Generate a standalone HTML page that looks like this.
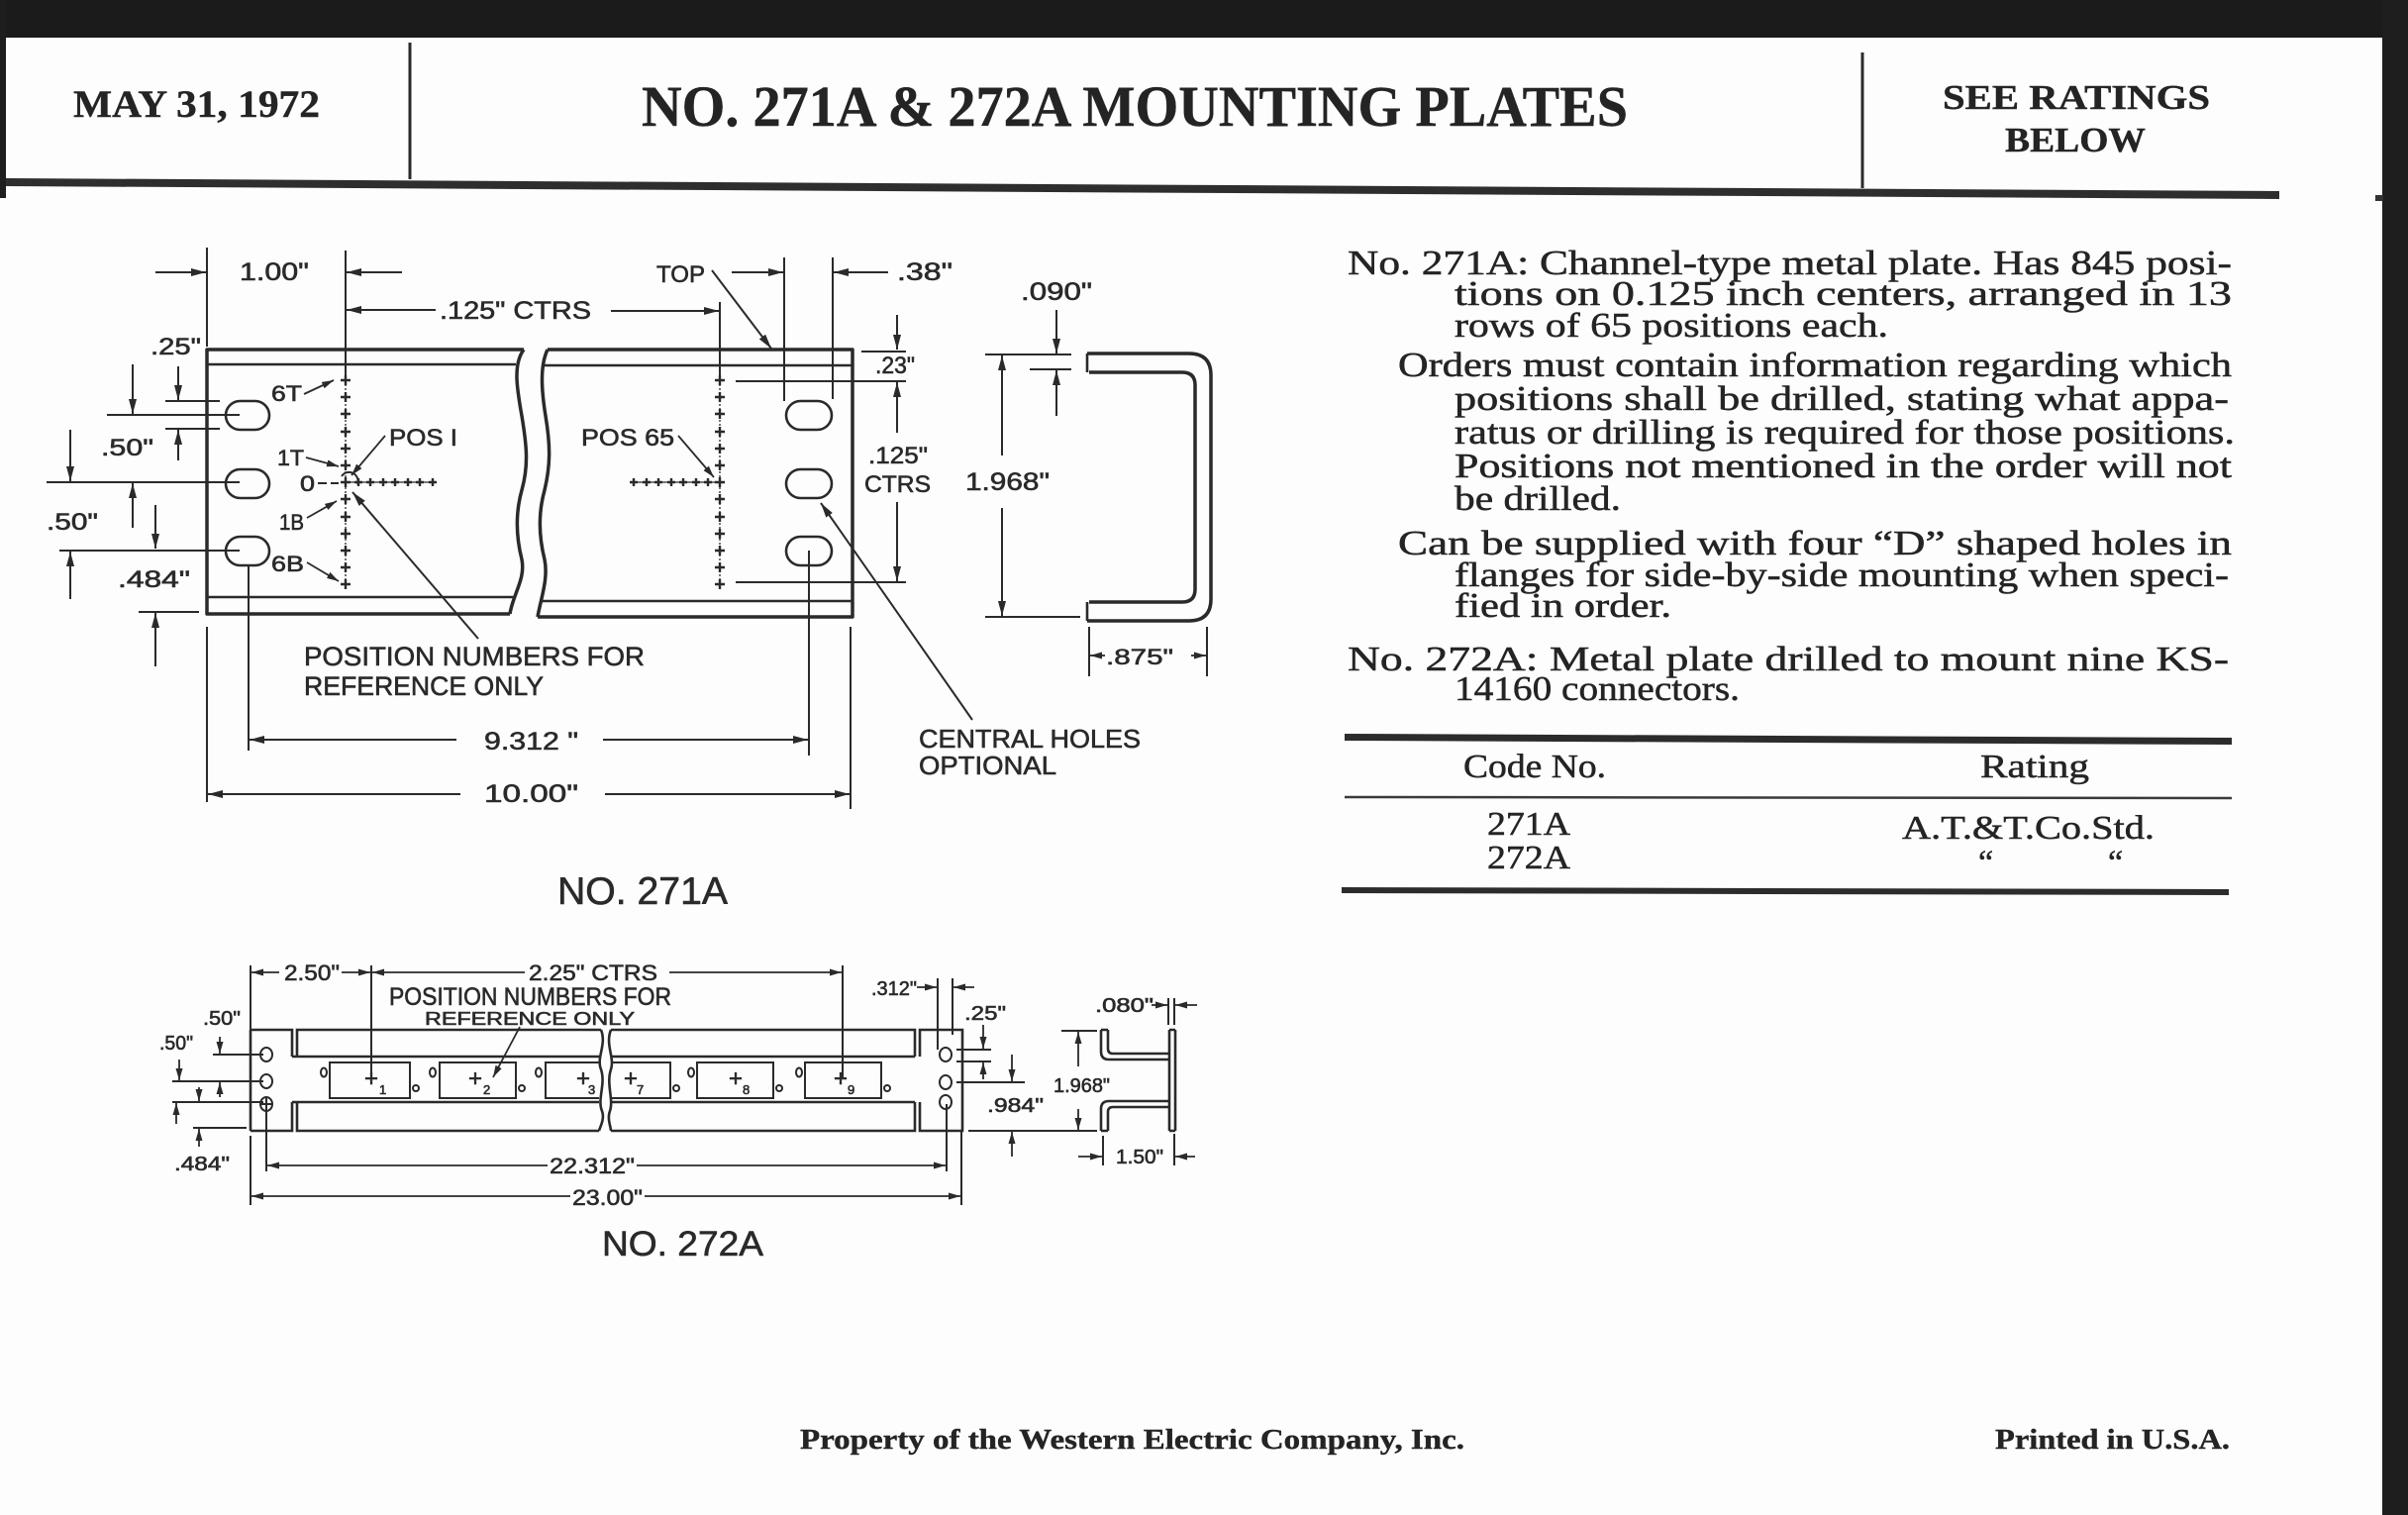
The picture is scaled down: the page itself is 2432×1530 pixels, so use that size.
<!DOCTYPE html>
<html><head><meta charset="utf-8"><title>No. 271A &amp; 272A Mounting Plates</title>
<style>
html,body{margin:0;padding:0;background:#fdfdfd;}
svg{display:block;}
.o{stroke:#2a2a2a;stroke-width:3.5;fill:none;stroke-linejoin:round}
.t{stroke:#2a2a2a;stroke-width:2.6;fill:none}
.d{stroke:#2a2a2a;stroke-width:2;fill:none}
.a{stroke:#2a2a2a;stroke-width:2;fill:none;marker-end:url(#A)}
.s{stroke:#2a2a2a;stroke-width:1.8;fill:none;marker-end:url(#S)}
.l{font-family:"Liberation Sans",sans-serif;fill:#2a2a2a;stroke:#2a2a2a;stroke-width:0.6}
.r{font-family:"Liberation Serif",serif;fill:#242424;stroke:#242424;stroke-width:0.5}
.b{font-family:"Liberation Serif",serif;font-weight:bold;fill:#242424;stroke:#242424;stroke-width:0.4}
</style></head>
<body>
<svg xmlns="http://www.w3.org/2000/svg" width="2432" height="1530" viewBox="0 0 2432 1530">
<defs>
<marker id="A" viewBox="0 0 15 8" refX="15" refY="4" markerWidth="15" markerHeight="8" orient="auto" markerUnits="userSpaceOnUse"><path d="M0,0L15,4L0,8z" fill="#2a2a2a"/></marker>
<marker id="S" viewBox="0 0 12 7" refX="12" refY="3.5" markerWidth="12" markerHeight="7" orient="auto" markerUnits="userSpaceOnUse"><path d="M0,0L12,3.5L0,7z" fill="#2a2a2a"/></marker>
</defs>

<!-- page -->
<rect width="2432" height="1530" fill="#fdfdfd"/>
<rect x="0" y="0" width="2432" height="38" fill="#1b1b1b"/>
<rect x="2406" y="0" width="26" height="1530" fill="#1e1e1e"/>
<rect x="0" y="0" width="6" height="200" fill="#1e1e1e"/>

<!-- header -->
<line x1="414" y1="43" x2="414" y2="181" stroke="#2a2a2a" stroke-width="3"/>
<line x1="1881" y1="53" x2="1881" y2="190" stroke="#2a2a2a" stroke-width="3"/>
<path d="M6,180 L2302,193 L2302,201 L6,188z" fill="#2e2e2e"/>
<rect x="2399" y="197" width="8" height="6" fill="#333"/>
<text class="b" x="74" y="118" font-size="39" textLength="249" lengthAdjust="spacingAndGlyphs">MAY 31, 1972</text>
<text class="b" x="648" y="127" font-size="58" textLength="996" lengthAdjust="spacingAndGlyphs">NO. 271A &amp; 272A MOUNTING PLATES</text>
<text class="b" x="1962" y="110" font-size="35" textLength="270" lengthAdjust="spacingAndGlyphs">SEE RATINGS</text>
<text class="b" x="2025" y="153" font-size="35" textLength="142" lengthAdjust="spacingAndGlyphs">BELOW</text>

<!-- ===== 271A drawing ===== -->
<path class="o" d="M529,353 H209 V620 H515"/>
<path class="t" d="M209,368 H521 M209,603 H518"/>
<path class="o" d="M529,353 C518,368 522,392 527,420 C532,450 534,470 527,495 C520,520 522,545 527,565 C531,585 518,600 515,620"/>
<path class="o" d="M553,353 H861 V623 H543"/>
<path class="t" d="M549,369 H861 M545,607 H861"/>
<path class="o" d="M553,353 C545,370 547,395 551,420 C556,450 556,470 550,495 C543,520 545,545 550,565 C554,585 546,605 543,623"/>

<g class="t">
<rect x="228" y="405" width="44" height="29" rx="14.5"/>
<rect x="228" y="474" width="44" height="29" rx="14.5"/>
<rect x="228" y="542" width="44" height="29" rx="14.5"/>
<rect x="794" y="405" width="46" height="29" rx="14.5"/>
<rect x="794" y="474" width="46" height="29" rx="14.5"/>
<rect x="794" y="542" width="46" height="29" rx="14.5"/>
</g>

<line x1="349" y1="384" x2="349" y2="590" stroke="#2a2a2a" stroke-width="1.3" stroke-dasharray="2 2"/>
<line x1="727" y1="384" x2="727" y2="590" stroke="#2a2a2a" stroke-width="1.3" stroke-dasharray="2 2"/>
<path stroke="#2a2a2a" stroke-width="2.4" fill="none" d="M344,384h10M349,379v10M344,401h10M349,396v10M344,418h10M349,413v10M344,436h10M349,431v10M344,453h10M349,448v10M344,470h10M349,465v10M344,487h10M349,482v10M344,504h10M349,499v10M344,522h10M349,517v10M344,539h10M349,534v10M344,556h10M349,551v10M344,573h10M349,568v10M344,590h10M349,585v10
M722,384h10M727,379v10M722,401h10M727,396v10M722,418h10M727,413v10M722,436h10M727,431v10M722,453h10M727,448v10M722,470h10M727,465v10M722,487h10M727,482v10M722,504h10M727,499v10M722,522h10M727,517v10M722,539h10M727,534v10M722,556h10M727,551v10M722,573h10M727,568v10M722,590h10M727,585v10
M358,487h8M362,483v8M370,487h8M374,483v8M383,487h8M387,483v8M395,487h8M399,483v8M408,487h8M412,483v8M420,487h8M424,483v8M433,487h8M437,483v8
M636,487h8M640,483v8M649,487h8M653,483v8M661,487h8M665,483v8M674,487h8M678,483v8M686,487h8M690,483v8M699,487h8M703,483v8M711,487h8M715,483v8"/>
<line x1="354" y1="487" x2="441" y2="487" stroke="#2a2a2a" stroke-width="1.2"/>
<line x1="636" y1="487" x2="722" y2="487" stroke="#2a2a2a" stroke-width="1.2"/>
<path d="M345,481 A9,9 0 0 1 361,489" class="d"/>

<text class="l" x="274" y="405" font-size="22" textLength="31" lengthAdjust="spacingAndGlyphs">6T</text>
<text class="l" x="280" y="470" font-size="22" textLength="27" lengthAdjust="spacingAndGlyphs">1T</text>
<text class="l" x="303" y="496" font-size="22" textLength="15" lengthAdjust="spacingAndGlyphs">0</text>
<path class="d" d="M321,488h9M334,488h8"/>
<text class="l" x="282" y="535" font-size="22" textLength="25" lengthAdjust="spacingAndGlyphs">1B</text>
<text class="l" x="274" y="577" font-size="22" textLength="33" lengthAdjust="spacingAndGlyphs">6B</text>
<line class="s" x1="307" y1="398" x2="337" y2="384"/>
<line class="s" x1="309" y1="462" x2="342" y2="471"/>
<line class="s" x1="310" y1="523" x2="340" y2="506"/>
<line class="s" x1="310" y1="568" x2="342" y2="587"/>
<text class="l" x="393" y="450" font-size="24" textLength="69" lengthAdjust="spacingAndGlyphs">POS I</text>
<line class="s" x1="389" y1="440" x2="355" y2="480"/>
<text class="l" x="587" y="450" font-size="24" textLength="94" lengthAdjust="spacingAndGlyphs">POS 65</text>
<line class="s" x1="685" y1="440" x2="721" y2="482"/>

<!-- 1.00" -->
<line class="d" x1="209" y1="250" x2="209" y2="350"/>
<line class="d" x1="349" y1="253" x2="349" y2="384"/>
<line class="a" x1="157" y1="275" x2="208" y2="275"/>
<line class="a" x1="406" y1="275" x2="350" y2="275"/>
<text class="l" x="242" y="283" font-size="25" textLength="70" lengthAdjust="spacingAndGlyphs">1.00"</text>
<line class="a" x1="440" y1="313" x2="350" y2="313"/>
<text class="l" x="444" y="322" font-size="25" textLength="153" lengthAdjust="spacingAndGlyphs">.125" CTRS</text>
<line class="a" x1="617" y1="314" x2="726" y2="314"/>
<line class="d" x1="727" y1="305" x2="727" y2="384"/>
<text class="l" x="663" y="285" font-size="24" textLength="49" lengthAdjust="spacingAndGlyphs">TOP</text>
<line class="a" x1="719" y1="273" x2="779" y2="352"/>
<line class="a" x1="739" y1="275" x2="791" y2="275"/>
<line class="d" x1="792" y1="260" x2="792" y2="405"/>
<line class="d" x1="841" y1="260" x2="841" y2="403"/>
<line class="a" x1="897" y1="275" x2="842" y2="275"/>
<text class="l" x="906" y="283" font-size="25" textLength="56" lengthAdjust="spacingAndGlyphs">.38"</text>
<line class="a" x1="906" y1="318" x2="906" y2="353"/>
<line class="d" x1="870" y1="355" x2="915" y2="355"/>
<line class="d" x1="743" y1="385" x2="915" y2="385"/>
<text class="l" x="884" y="377" font-size="24" textLength="40" lengthAdjust="spacingAndGlyphs">.23"</text>
<line class="a" x1="906" y1="437" x2="906" y2="386"/>
<text class="l" x="877" y="468" font-size="24" textLength="60" lengthAdjust="spacingAndGlyphs">.125"</text>
<text class="l" x="873" y="497" font-size="24" textLength="67" lengthAdjust="spacingAndGlyphs">CTRS</text>
<line class="a" x1="906" y1="507" x2="906" y2="587"/>
<line class="d" x1="743" y1="588" x2="915" y2="588"/>
<line class="a" x1="1012" y1="460" x2="1012" y2="359"/>
<line class="a" x1="1012" y1="513" x2="1012" y2="622"/>
<line class="d" x1="995" y1="358" x2="1082" y2="358"/>
<line class="d" x1="995" y1="623" x2="1091" y2="623"/>
<text class="l" x="975" y="495" font-size="25" textLength="85" lengthAdjust="spacingAndGlyphs">1.968"</text>
<text class="l" x="1031" y="303" font-size="25" textLength="72" lengthAdjust="spacingAndGlyphs">.090"</text>
<line class="a" x1="1067" y1="313" x2="1067" y2="357"/>
<line class="d" x1="1040" y1="373" x2="1082" y2="373"/>
<line class="a" x1="1067" y1="420" x2="1067" y2="374"/>
<path class="o" d="M1098,357 H1201 Q1223,357 1223,379 V605 Q1223,627 1201,627 H1098"/>
<path class="o" d="M1100,376 H1194 Q1207,376 1207,389 V595 Q1207,608 1194,608 H1100"/>
<path class="t" d="M1098,357 V376 M1098,608 V627"/>
<line class="d" x1="1100" y1="633" x2="1100" y2="683"/>
<line class="d" x1="1219" y1="633" x2="1219" y2="683"/>
<line class="s" x1="1116" y1="662" x2="1101" y2="662"/>
<line class="s" x1="1203" y1="662" x2="1218" y2="662"/>
<text class="l" x="1117" y="671" font-size="22" textLength="68" lengthAdjust="spacingAndGlyphs">.875"</text>

<text class="l" x="152" y="358" font-size="24" textLength="51" lengthAdjust="spacingAndGlyphs">.25"</text>
<line class="a" x1="180" y1="370" x2="180" y2="404"/>
<line class="d" x1="167" y1="405" x2="222" y2="405"/>
<line class="d" x1="167" y1="433" x2="222" y2="433"/>
<line class="a" x1="180" y1="465" x2="180" y2="434"/>
<line class="a" x1="134" y1="368" x2="134" y2="418"/>
<line class="d" x1="108" y1="419" x2="242" y2="419"/>
<text class="l" x="102" y="460" font-size="24" textLength="53" lengthAdjust="spacingAndGlyphs">.50"</text>
<line class="a" x1="71" y1="434" x2="71" y2="486"/>
<line class="d" x1="47" y1="487" x2="242" y2="487"/>
<line class="a" x1="134" y1="533" x2="134" y2="488"/>
<text class="l" x="47" y="535" font-size="24" textLength="52" lengthAdjust="spacingAndGlyphs">.50"</text>
<line class="a" x1="157" y1="510" x2="157" y2="554"/>
<line class="d" x1="60" y1="556" x2="242" y2="556"/>
<line class="a" x1="71" y1="605" x2="71" y2="557"/>
<text class="l" x="119" y="593" font-size="24" textLength="73" lengthAdjust="spacingAndGlyphs">.484"</text>
<line class="d" x1="140" y1="618" x2="201" y2="618"/>
<line class="a" x1="157" y1="673" x2="157" y2="619"/>

<line class="d" x1="209" y1="633" x2="209" y2="810"/>
<line class="d" x1="251" y1="572" x2="251" y2="758"/>
<line class="d" x1="817" y1="556" x2="817" y2="763"/>
<line class="d" x1="859" y1="633" x2="859" y2="817"/>
<line class="a" x1="461" y1="747" x2="252" y2="747"/>
<line class="a" x1="609" y1="747" x2="816" y2="747"/>
<text class="l" x="489" y="757" font-size="25" textLength="95" lengthAdjust="spacingAndGlyphs">9.312 "</text>
<line class="a" x1="465" y1="802" x2="210" y2="802"/>
<line class="a" x1="611" y1="802" x2="858" y2="802"/>
<text class="l" x="489" y="810" font-size="25" textLength="95" lengthAdjust="spacingAndGlyphs">10.00"</text>

<text class="l" x="307" y="672" font-size="27" textLength="344" lengthAdjust="spacingAndGlyphs">POSITION NUMBERS FOR</text>
<text class="l" x="307" y="702" font-size="27" textLength="242" lengthAdjust="spacingAndGlyphs">REFERENCE ONLY</text>
<line class="a" x1="483" y1="645" x2="356" y2="497"/>

<text class="l" x="928" y="755" font-size="26" textLength="224" lengthAdjust="spacingAndGlyphs">CENTRAL HOLES</text>
<text class="l" x="928" y="782" font-size="26" textLength="139" lengthAdjust="spacingAndGlyphs">OPTIONAL</text>
<line class="a" x1="982" y1="727" x2="829" y2="508"/>

<text class="l" x="563" y="913" font-size="39" textLength="172" lengthAdjust="spacingAndGlyphs">NO. 271A</text>

<!-- ===== 272A drawing ===== -->
<path class="t" d="M253,1040 V1142 M253,1040 H295 V1067 M300,1067 V1040 H607 M253,1142 H295 V1113 M300,1113 V1142 H605 M295,1067 H606 M295,1113 H605"/>
<path class="t" d="M617,1040 H924 V1067 M929,1067 V1040 H972 V1142 H929 V1113 M924,1113 V1142 H617 M617,1067 H924 M617,1113 H924"/>
<path class="t" d="M607,1040 C613,1055 602,1068 607,1080 C612,1095 603,1110 608,1122 C611,1130 606,1138 605,1142"/>
<path class="t" d="M617,1040 C611,1055 621,1068 617,1080 C612,1095 620,1110 616,1122 C613,1130 617,1138 617,1142"/>
<g class="d" stroke-width="2.4">
<rect x="333" y="1073" width="81" height="36"/>
<rect x="444" y="1073" width="77" height="36"/>
<path d="M605,1073 H551 V1109 H605"/>
<path d="M618,1073 H677 V1109 H618"/>
<rect x="704" y="1073" width="77" height="36"/>
<rect x="813" y="1073" width="77" height="36"/>
<ellipse cx="327" cy="1083" rx="3" ry="4.5"/><circle cx="420" cy="1099" r="3"/>
<ellipse cx="437" cy="1083" rx="3" ry="4.5"/><circle cx="527" cy="1099" r="3"/>
<ellipse cx="544" cy="1083" rx="3" ry="4.5"/>
<circle cx="683" cy="1099" r="3"/>
<ellipse cx="698" cy="1083" rx="3" ry="4.5"/><circle cx="787" cy="1099" r="3"/>
<ellipse cx="807" cy="1083" rx="3" ry="4.5"/><circle cx="896" cy="1099" r="3"/>
<ellipse cx="269" cy="1065" rx="6" ry="7"/>
<ellipse cx="269" cy="1092" rx="6" ry="7"/>
<ellipse cx="269" cy="1115" rx="6" ry="7"/>
<path d="M263,1115h12M269,1108v14"/>
<ellipse cx="955" cy="1065" rx="6" ry="7"/>
<ellipse cx="955" cy="1093" rx="6" ry="7"/>
<ellipse cx="955" cy="1113" rx="6" ry="7"/>
</g>
<g class="l" font-size="24">
<text x="368" y="1097">+</text><text x="383" y="1105" font-size="13">1</text>
<text x="473" y="1097">+</text><text x="488" y="1105" font-size="13">2</text>
<text x="582" y="1097">+</text><text x="594" y="1105" font-size="13">3</text>
<text x="630" y="1097">+</text><text x="643" y="1105" font-size="13">7</text>
<text x="736" y="1097">+</text><text x="750" y="1105" font-size="13">8</text>
<text x="842" y="1097">+</text><text x="856" y="1105" font-size="13">9</text>
</g>

<line class="d" x1="253" y1="975" x2="253" y2="1040"/>
<line class="s" x1="282" y1="982" x2="254" y2="982"/>
<text class="l" x="287" y="990" font-size="22" textLength="56" lengthAdjust="spacingAndGlyphs">2.50"</text>
<line class="s" x1="345" y1="982" x2="374" y2="982"/>
<line class="d" x1="375" y1="975" x2="375" y2="1088"/>
<line class="s" x1="530" y1="982" x2="376" y2="982"/>
<text class="l" x="534" y="990" font-size="22" textLength="130" lengthAdjust="spacingAndGlyphs">2.25" CTRS</text>
<line class="s" x1="676" y1="982" x2="850" y2="982"/>
<line class="d" x1="851" y1="975" x2="851" y2="1088"/>
<text class="l" x="393" y="1015" font-size="25" textLength="285" lengthAdjust="spacingAndGlyphs">POSITION NUMBERS FOR</text>
<text class="l" x="429" y="1035" font-size="18" textLength="212" lengthAdjust="spacingAndGlyphs">REFERENCE ONLY</text>
<line class="s" x1="525" y1="1037" x2="498" y2="1088"/>

<text class="l" x="880" y="1005" font-size="20" textLength="46" lengthAdjust="spacingAndGlyphs">.312"</text>
<line class="s" x1="926" y1="997" x2="946" y2="997"/>
<line class="d" x1="947" y1="988" x2="947" y2="1060"/>
<line class="d" x1="962" y1="988" x2="962" y2="1045"/>
<line class="s" x1="984" y1="997" x2="963" y2="997"/>
<text class="l" x="974" y="1030" font-size="20" textLength="42" lengthAdjust="spacingAndGlyphs">.25"</text>
<line class="s" x1="993" y1="1035" x2="993" y2="1059"/>
<line class="d" x1="966" y1="1060" x2="1001" y2="1060"/>
<line class="d" x1="966" y1="1072" x2="1001" y2="1072"/>
<line class="s" x1="993" y1="1090" x2="993" y2="1073"/>
<text class="l" x="997" y="1123" font-size="20" textLength="57" lengthAdjust="spacingAndGlyphs">.984"</text>
<line class="s" x1="1022" y1="1065" x2="1022" y2="1092"/>
<line class="d" x1="966" y1="1093" x2="1035" y2="1093"/>
<line class="d" x1="978" y1="1142" x2="1108" y2="1142"/>
<line class="s" x1="1022" y1="1168" x2="1022" y2="1143"/>
<text class="l" x="1064" y="1103" font-size="20" textLength="57" lengthAdjust="spacingAndGlyphs">1.968"</text>
<line class="s" x1="1089" y1="1077" x2="1089" y2="1042"/>
<line class="s" x1="1089" y1="1120" x2="1089" y2="1141"/>
<line class="d" x1="1072" y1="1041" x2="1108" y2="1041"/>
<text class="l" x="1106" y="1022" font-size="20" textLength="59" lengthAdjust="spacingAndGlyphs">.080"</text>
<line class="s" x1="1163" y1="1015" x2="1179" y2="1015"/>
<line class="d" x1="1180" y1="1008" x2="1180" y2="1035"/>
<line class="d" x1="1186" y1="1008" x2="1186" y2="1035"/>
<line class="s" x1="1209" y1="1015" x2="1187" y2="1015"/>
<path class="t" d="M1181,1040 V1142 M1187,1040 V1142 M1181,1040 H1187 M1181,1142 H1187"/>
<path class="t" d="M1112,1040 V1062 Q1112,1070 1120,1070 H1181 M1119,1040 V1059 Q1119,1064 1124,1064 H1181 M1112,1040 H1119"/>
<path class="t" d="M1181,1112 H1120 Q1112,1112 1112,1120 V1142 M1181,1118 H1124 Q1119,1118 1119,1123 V1142 M1112,1142 H1119"/>
<line class="d" x1="1114" y1="1147" x2="1114" y2="1177"/>
<line class="d" x1="1186" y1="1145" x2="1186" y2="1177"/>
<line class="s" x1="1089" y1="1168" x2="1113" y2="1168"/>
<line class="s" x1="1207" y1="1168" x2="1187" y2="1168"/>
<text class="l" x="1127" y="1175" font-size="20" textLength="48" lengthAdjust="spacingAndGlyphs">1.50"</text>

<text class="l" x="205" y="1035" font-size="20" textLength="38" lengthAdjust="spacingAndGlyphs">.50"</text>
<text class="l" x="161" y="1060" font-size="20" textLength="34" lengthAdjust="spacingAndGlyphs">.50"</text>
<line class="s" x1="222" y1="1047" x2="222" y2="1064"/>
<line class="d" x1="215" y1="1065" x2="266" y2="1065"/>
<line class="s" x1="181" y1="1070" x2="181" y2="1091"/>
<line class="d" x1="174" y1="1092" x2="266" y2="1092"/>
<line class="s" x1="201" y1="1098" x2="201" y2="1112"/>
<line class="s" x1="222" y1="1108" x2="222" y2="1093"/>
<line class="d" x1="174" y1="1113" x2="266" y2="1113"/>
<line class="s" x1="178" y1="1135" x2="178" y2="1114"/>
<line class="d" x1="195" y1="1139" x2="249" y2="1139"/>
<line class="s" x1="201" y1="1158" x2="201" y2="1140"/>
<text class="l" x="176" y="1182" font-size="20" textLength="56" lengthAdjust="spacingAndGlyphs">.484"</text>

<line class="d" x1="253" y1="1147" x2="253" y2="1217"/>
<line class="d" x1="269" y1="1115" x2="269" y2="1183"/>
<line class="d" x1="956" y1="1115" x2="956" y2="1183"/>
<line class="d" x1="971" y1="1142" x2="971" y2="1217"/>
<line class="s" x1="553" y1="1177" x2="270" y2="1177"/>
<text class="l" x="555" y="1185" font-size="22" textLength="86" lengthAdjust="spacingAndGlyphs">22.312"</text>
<line class="s" x1="643" y1="1177" x2="955" y2="1177"/>
<line class="s" x1="576" y1="1208" x2="254" y2="1208"/>
<text class="l" x="578" y="1217" font-size="22" textLength="71" lengthAdjust="spacingAndGlyphs">23.00"</text>
<line class="s" x1="651" y1="1208" x2="970" y2="1208"/>
<text class="l" x="608" y="1268" font-size="35" textLength="163" lengthAdjust="spacingAndGlyphs">NO. 272A</text>

<!-- ===== right text block ===== -->
<g class="r" font-size="35">
<text x="1361" y="277" textLength="893" lengthAdjust="spacingAndGlyphs">No. 271A:  Channel-type metal plate.  Has 845 posi-</text>
<text x="1469" y="308" textLength="785" lengthAdjust="spacingAndGlyphs">tions on 0.125 inch centers, arranged in 13</text>
<text x="1469" y="340" textLength="438" lengthAdjust="spacingAndGlyphs">rows of 65 positions each.</text>
<text x="1412" y="380" textLength="842" lengthAdjust="spacingAndGlyphs">Orders must contain information regarding which</text>
<text x="1469" y="414" textLength="782" lengthAdjust="spacingAndGlyphs">positions shall be drilled, stating what appa-</text>
<text x="1469" y="448" textLength="788" lengthAdjust="spacingAndGlyphs">ratus or drilling is required for those positions.</text>
<text x="1469" y="482" textLength="785" lengthAdjust="spacingAndGlyphs">Positions not mentioned in the order will not</text>
<text x="1469" y="515" textLength="168" lengthAdjust="spacingAndGlyphs">be drilled.</text>
<text x="1412" y="560" textLength="842" lengthAdjust="spacingAndGlyphs">Can be supplied with four “D” shaped holes in</text>
<text x="1469" y="592" textLength="782" lengthAdjust="spacingAndGlyphs">flanges for side-by-side mounting when speci-</text>
<text x="1469" y="623" textLength="219" lengthAdjust="spacingAndGlyphs">fied in order.</text>
<text x="1361" y="677" textLength="890" lengthAdjust="spacingAndGlyphs">No. 272A:  Metal plate drilled to mount nine KS-</text>
<text x="1469" y="707" textLength="288" lengthAdjust="spacingAndGlyphs">14160 connectors.</text>
</g>

<path d="M1358,741 L2254,745 L2254,752 L1358,748z" fill="#2c2c2c"/>
<line x1="1358" y1="805" x2="2254" y2="806" stroke="#3a3a3a" stroke-width="2.5"/>
<path d="M1355,896 L2251,898 L2251,904 L1355,902z" fill="#2c2c2c"/>
<g class="r" font-size="34">
<text x="1478" y="785" textLength="144" lengthAdjust="spacingAndGlyphs">Code No.</text>
<text x="2000" y="785" textLength="110" lengthAdjust="spacingAndGlyphs">Rating</text>
<text x="1502" y="843" textLength="84" lengthAdjust="spacingAndGlyphs">271A</text>
<text x="1502" y="877" textLength="84" lengthAdjust="spacingAndGlyphs">272A</text>
<text x="1921" y="847" textLength="255" lengthAdjust="spacingAndGlyphs">A.T.&amp;T.Co.Std.</text>
<text x="1998" y="882">“</text>
<text x="2129" y="882">“</text>
</g>

<text class="b" x="808" y="1463" font-size="29" textLength="671" lengthAdjust="spacingAndGlyphs">Property of the Western Electric Company, Inc.</text>
<text class="b" x="2015" y="1463" font-size="29" textLength="237" lengthAdjust="spacingAndGlyphs">Printed in U.S.A.</text>
</svg>
</body></html>
